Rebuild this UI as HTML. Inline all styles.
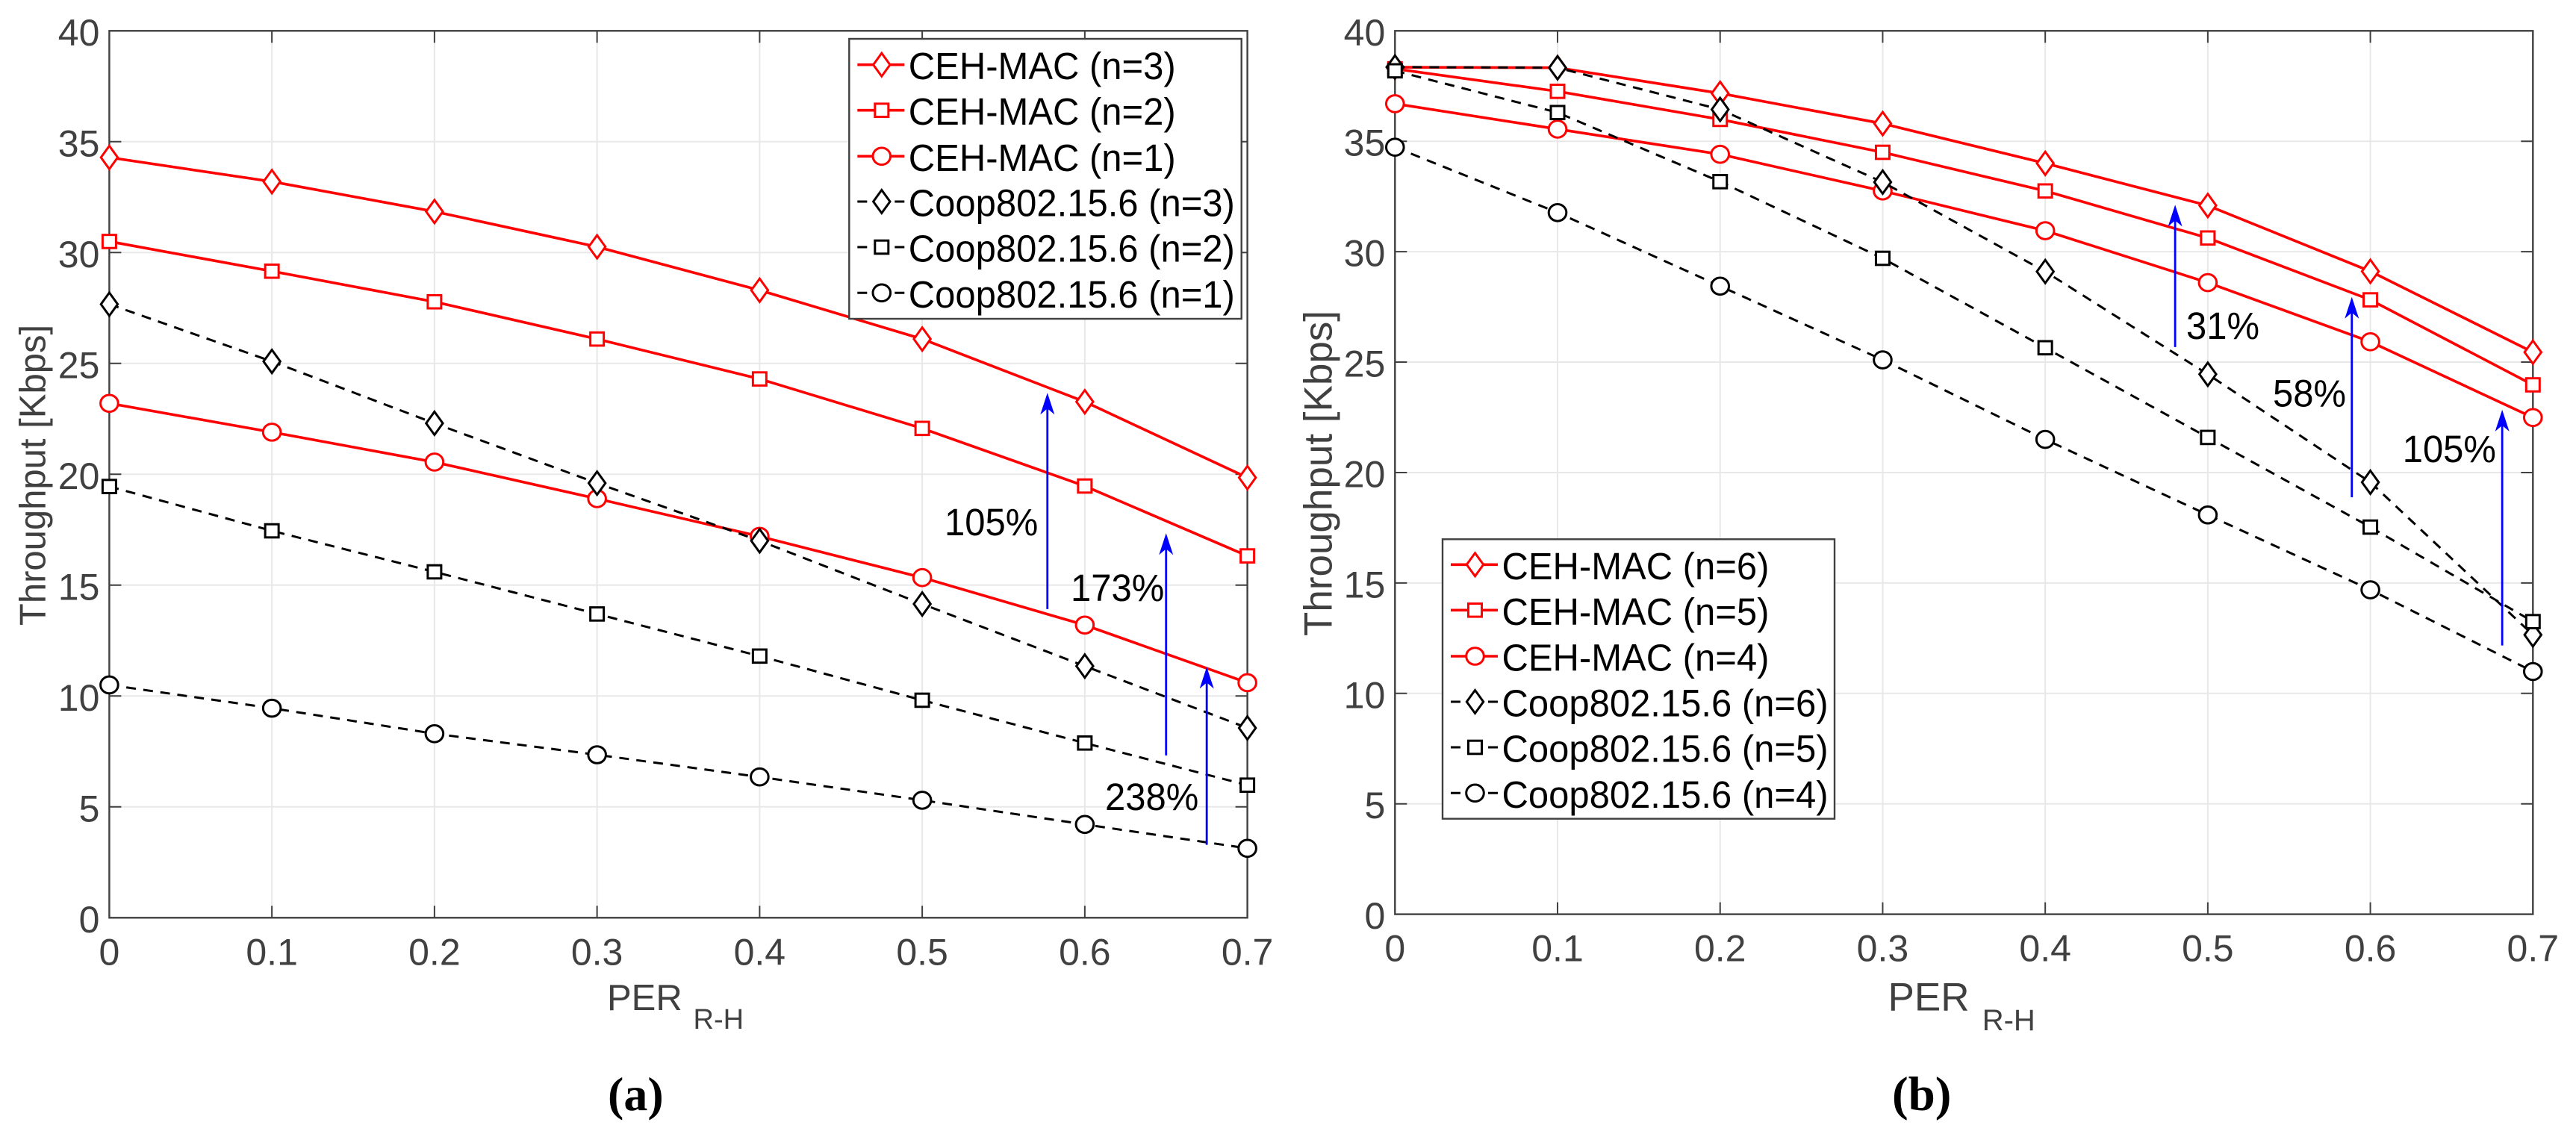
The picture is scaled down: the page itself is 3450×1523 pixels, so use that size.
<!DOCTYPE html>
<html lang="en">
<head>
<meta charset="utf-8">
<title>Throughput vs PER R-H</title>
<style>
html,body{margin:0;padding:0;background:#fff;}
svg{display:block;}
text{font-family:"Liberation Sans",sans-serif;}
</style>
</head>
<body>
<svg id="figure" xmlns="http://www.w3.org/2000/svg" width="3450" height="1523" viewBox="0 0 3450 1523">
<rect x="0" y="0" width="3450" height="1523" fill="#fff"/>
<g id="panel-a"></g>
<g id="panel-b"></g>

<text x="813" y="1353" font-size="49" fill="#404040">PER</text>
<text x="928.5" y="1378" font-size="38" fill="#404040">R-H</text>
<text transform="translate(60.7,636.5) rotate(-90)" text-anchor="middle" font-size="49" fill="#404040">Throughput [Kbps]</text>
<text x="814" y="1487" font-size="64" font-weight="bold" fill="#000" style="font-family:'Liberation Serif',serif">(a)</text>

<text x="2528.5" y="1353.3" font-size="53" fill="#404040">PER</text>
<text x="2654.7" y="1380" font-size="40" fill="#404040">R-H</text>
<text transform="translate(1783.3,634) rotate(-90)" text-anchor="middle" font-size="53" fill="#404040">Throughput [Kbps]</text>
<text x="2534" y="1487" font-size="65" font-weight="bold" fill="#000" style="font-family:'Liberation Serif',serif">(b)</text>

<g id="annotations"></g>
<text transform="translate(1265,717) scale(1,1.05)" font-size="49" fill="#000">105%</text>
<text transform="translate(1434,805) scale(1,1.05)" font-size="49" fill="#000">173%</text>
<text transform="translate(1480,1085) scale(1,1.05)" font-size="49" fill="#000">238%</text>
<text transform="translate(2928,454) scale(1,1.05)" font-size="49" fill="#000">31%</text>
<text transform="translate(3044,544.6) scale(1,1.05)" font-size="49" fill="#000">58%</text>
<text transform="translate(3217.7,619) scale(1,1.05)" font-size="49" fill="#000">105%</text>
</svg>

<script>
var perCategories = [0, 0.1, 0.2, 0.3, 0.4, 0.5, 0.6, 0.7];
var xTickLabels = ['0', '0.1', '0.2', '0.3', '0.4', '0.5', '0.6', '0.7'];
var yTickValues = [0, 5, 10, 15, 20, 25, 30, 35, 40];

var cehN3 = [34.29, 33.2, 31.85, 30.26, 28.3, 26.1, 23.27, 19.85];
var cehN2 = [30.5, 29.16, 27.78, 26.1, 24.3, 22.07, 19.47, 16.32];
var cehN1 = [23.2, 21.9, 20.55, 18.9, 17.2, 15.34, 13.2, 10.6];
var coopN3 = [27.67, 25.09, 22.3, 19.6, 17.0, 14.15, 11.35, 8.56];
var coopN2 = [19.45, 17.45, 15.6, 13.7, 11.8, 9.81, 7.88, 5.98];
var coopN1 = [10.5, 9.45, 8.3, 7.35, 6.35, 5.3, 4.21, 3.13];

var cehN6 = [38.35, 38.33, 37.17, 35.8, 34.0, 32.09, 29.11, 25.45];
var cehN5 = [38.28, 37.26, 35.99, 34.5, 32.75, 30.62, 27.82, 23.97];
var cehN4 = [36.7, 35.55, 34.41, 32.75, 30.95, 28.6, 25.92, 22.49];
var coopN6 = [38.36, 38.33, 36.44, 33.15, 29.1, 24.45, 19.56, 12.65];
var coopN5 = [38.19, 36.3, 33.17, 29.7, 25.65, 21.59, 17.53, 13.25];
var coopN4 = [34.73, 31.77, 28.44, 25.1, 21.5, 18.08, 14.69, 10.99];

var arrowXA = [0.577, 0.65, 0.675];
var arrowFromA = [13.92, 7.32, 3.29];
var arrowToA = [23.67, 17.34, 11.31];
var arrowXB = [0.4799, 0.5886, 0.6811];
var arrowFromB = [25.68, 18.88, 12.17];
var arrowToB = [32.12, 27.95, 22.84];

var SVGNS = 'http://www.w3.org/2000/svg';
var AXIS = '#404040', GRID = '#e8e8e8', RED = '#ff0000', BLACK = '#000000';

function mk(tag, attrs, parent) {
  var el = document.createElementNS(SVGNS, tag);
  for (var k in attrs) el.setAttribute(k, attrs[k]);
  parent.appendChild(el);
  return el;
}

function drawMarker(shape, cx, cy, color, parent, name) {
  var el;
  if (shape === 'diamond') {
    el = mk('polygon', {points: cx + ',' + (cy - 15.5) + ' ' + (cx + 11.2) + ',' + cy + ' ' + cx + ',' + (cy + 15.5) + ' ' + (cx - 11.2) + ',' + cy}, parent);
  } else if (shape === 'square') {
    el = mk('rect', {x: cx - 9, y: cy - 8.8, width: 18, height: 17.6}, parent);
  } else {
    el = mk('ellipse', {cx: cx, cy: cy, rx: 11.8, ry: 11.3}, parent);
  }
  el.setAttribute('fill', '#fff');
  el.setAttribute('stroke', color);
  el.setAttribute('stroke-width', '3');
  el.setAttribute('stroke-miterlimit', '10');
  
  
}

function drawPanel(cfg) {
  var root = document.getElementById(cfg.rootId);
  var sx = function (v) { return cfg.left + (v / 0.7) * (cfg.right - cfg.left); };
  var sy = function (v) { return cfg.bottom - (v / 40) * (cfg.bottom - cfg.top); };

  perCategories.forEach(function (c, i) {
    var px = sx(c);
    if (i > 0 && i < perCategories.length - 1) {
      var gv = mk('line', {x1: px, x2: px, y1: cfg.top, y2: cfg.bottom, stroke: GRID, 'stroke-width': 2}, root);
      
      
      var t1 = mk('line', {x1: px, x2: px, y1: cfg.bottom, y2: cfg.bottom - 16, stroke: AXIS, 'stroke-width': 2}, root);
      
      
      var t2 = mk('line', {x1: px, x2: px, y1: cfg.top, y2: cfg.top + 16, stroke: AXIS, 'stroke-width': 2}, root);
      
      
    }
    var xl = mk('text', {x: px, y: cfg.bottom + 63, 'text-anchor': 'middle', 'font-size': 50, fill: AXIS}, root);
    xl.textContent = xTickLabels[i];
    
    
  });

  yTickValues.forEach(function (v, i) {
    var py = sy(v);
    if (i > 0 && i < yTickValues.length - 1) {
      var gh = mk('line', {x1: cfg.left, x2: cfg.right, y1: py, y2: py, stroke: GRID, 'stroke-width': 2}, root);
      
      
      var t3 = mk('line', {x1: cfg.left, x2: cfg.left + 16, y1: py, y2: py, stroke: AXIS, 'stroke-width': 2}, root);
      
      
      var t4 = mk('line', {x1: cfg.right, x2: cfg.right - 16, y1: py, y2: py, stroke: AXIS, 'stroke-width': 2}, root);
      
      
    }
    var yl = mk('text', {x: cfg.left - 13, y: py + 19.5, 'text-anchor': 'end', 'font-size': 50, fill: AXIS}, root);
    yl.textContent = String(v);
    
    
  });

  var frame = mk('rect', {x: cfg.left, y: cfg.top, width: cfg.right - cfg.left, height: cfg.bottom - cfg.top, fill: 'none', stroke: AXIS, 'stroke-width': 2.4}, root);
  
  

  cfg.series.forEach(function (s) {
    var pts = s.values.map(function (v, i) { return sx(perCategories[i]) + ',' + sy(v); }).join(' ');
    var line = mk('polyline', {points: pts, fill: 'none', stroke: s.color, 'stroke-width': s.dashed ? 3 : 3.6, 'stroke-dasharray': s.dashed ? '13 10' : 'none'}, root);
    
    
    s.values.forEach(function (v, i) {
      drawMarker(s.shape, sx(perCategories[i]), sy(v), s.color, root, s.name + '-marker');
    });
  });

  var ann = document.getElementById('annotations');
  cfg.arrowX.forEach(function (a, i) {
    var ax = sx(a), y0 = sy(cfg.arrowFrom[i]), y1 = sy(cfg.arrowTo[i]);
    var shaft = mk('line', {x1: ax, x2: ax, y1: y0, y2: y1 + 20, stroke: '#0000ff', 'stroke-width': 2.8}, ann);
    
    
    var head = mk('polygon', {points: ax + ',' + y1 + ' ' + (ax + 9.5) + ',' + (y1 + 29) + ' ' + ax + ',' + (y1 + 21) + ' ' + (ax - 9.5) + ',' + (y1 + 29), fill: '#0000ff'}, ann);
    
    
  });

  var L = cfg.legend;
  var box = mk('rect', {x: L.left, y: L.top, width: L.right - L.left, height: L.bottom - L.top, fill: '#fff', stroke: AXIS, 'stroke-width': 2.4}, root);
  
  
  cfg.series.forEach(function (s, i) {
    var y = L.rows[i];
    var x0 = L.left + 11, x1 = L.left + 74, xm = L.left + 43.5;
    var ll = mk('line', {x1: x0, x2: x1, y1: y, y2: y, stroke: s.color, 'stroke-width': s.dashed ? 3 : 3.6, 'stroke-dasharray': s.dashed ? '13 37 13' : 'none'}, root);
    
    
    drawMarker(s.shape, xm, y, s.color, root, 'legend-marker');
    var tx = mk('text', {transform: 'translate(' + (L.left + 79.5) + ',' + (y + 19.5) + ') scale(1,1.04)', 'font-size': 49, fill: '#000'}, root);
    tx.textContent = s.label;
    
    
  });
}

drawPanel({
  rootId: 'panel-a',
  left: 146.4, right: 1670.6, top: 41.3, bottom: 1229.3,
  arrowX: arrowXA, arrowFrom: arrowFromA, arrowTo: arrowToA,
  legend: {left: 1137.3, right: 1662.7, top: 52, bottom: 427, rows: [86.7, 147.7, 209.3, 270, 331, 392.3]},
  series: [
    {name: 'ceh-mac-n3', label: 'CEH-MAC (n=3)', values: cehN3, color: RED, shape: 'diamond', dashed: false},
    {name: 'ceh-mac-n2', label: 'CEH-MAC (n=2)', values: cehN2, color: RED, shape: 'square', dashed: false},
    {name: 'ceh-mac-n1', label: 'CEH-MAC (n=1)', values: cehN1, color: RED, shape: 'circle', dashed: false},
    {name: 'coop-n3', label: 'Coop802.15.6 (n=3)', values: coopN3, color: BLACK, shape: 'diamond', dashed: true},
    {name: 'coop-n2', label: 'Coop802.15.6 (n=2)', values: coopN2, color: BLACK, shape: 'square', dashed: true},
    {name: 'coop-n1', label: 'Coop802.15.6 (n=1)', values: coopN1, color: BLACK, shape: 'circle', dashed: true}
  ]
});

drawPanel({
  rootId: 'panel-b',
  left: 1868.3, right: 3392.3, top: 41.3, bottom: 1224.6,
  arrowX: arrowXB, arrowFrom: arrowFromB, arrowTo: arrowToB,
  legend: {left: 1932, right: 2457, top: 722.3, bottom: 1096.7, rows: [756.3, 817.3, 879, 940, 1001, 1062.3]},
  series: [
    {name: 'ceh-mac-n6', label: 'CEH-MAC (n=6)', values: cehN6, color: RED, shape: 'diamond', dashed: false},
    {name: 'ceh-mac-n5', label: 'CEH-MAC (n=5)', values: cehN5, color: RED, shape: 'square', dashed: false},
    {name: 'ceh-mac-n4', label: 'CEH-MAC (n=4)', values: cehN4, color: RED, shape: 'circle', dashed: false},
    {name: 'coop-n6', label: 'Coop802.15.6 (n=6)', values: coopN6, color: BLACK, shape: 'diamond', dashed: true},
    {name: 'coop-n5', label: 'Coop802.15.6 (n=5)', values: coopN5, color: BLACK, shape: 'square', dashed: true},
    {name: 'coop-n4', label: 'Coop802.15.6 (n=4)', values: coopN4, color: BLACK, shape: 'circle', dashed: true}
  ]
});
</script>
</body>
</html>
